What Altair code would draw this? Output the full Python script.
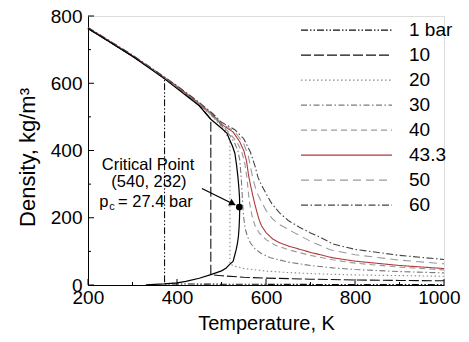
import altair as alt
import pandas as pd

# ---------------- data ----------------
labels = ["1 bar", "10", "20", "30", "40", "43.3", "50", "60"]
colors = ["#111111", "#111111", "#8c8c8c", "#7a7a7a", "#9a9a9a", "#b03a3a", "#9a9a9a", "#444444"]
dashes = [[7, 2, 1.5, 2, 1.5, 2], [10, 3], [1.5, 2.5], [6, 2.5, 1.5, 2.5], [6, 4], [1, 0], [8, 5], [7, 2.5, 1.5, 2.5]]

T_1 = [200, 250, 300, 350, 372, 372, 400, 450, 500, 600, 700, 800, 900, 1000]
R_1 = [763, 722, 680, 636, 613, 3.3, 3.05, 2.7, 2.42, 2.01, 1.72, 1.51, 1.34, 1.2]

T_10 = [200, 250, 300, 350, 400, 450, 476, 476, 500, 550, 600, 700, 800, 900, 1000]
R_10 = [763, 722, 680, 637, 589, 534, 493, 31, 27.5, 23, 20.5, 17.3, 15, 13.6, 12.5]

T_20 = [200, 250, 300, 350, 400, 450, 480, 500, 519, 519, 530, 550, 600, 650, 700, 800, 900, 1000]
R_20 = [764, 723, 681, 637, 590, 536, 500, 471, 430, 62, 56, 49, 41.5, 37, 34, 30, 28, 26]

T_30 = [200, 300, 400, 450, 480, 500, 520, 530, 537, 541, 544, 546, 548, 550, 553, 558, 565, 575, 590, 610, 650, 700, 750, 800, 900, 1000]
R_30 = [764, 681, 590, 537, 502, 474, 443, 421, 398, 372, 325, 282, 232, 200, 170, 145, 125, 108, 93, 81, 68, 58, 51, 46, 40, 36]

T_40 = [200, 300, 400, 450, 480, 500, 520, 535, 545, 552, 557, 560, 563, 566, 570, 576, 585, 600, 620, 650, 700, 750, 800, 900, 1000]
R_40 = [765, 682, 591, 539, 505, 477, 449, 424, 398, 365, 320, 280, 245, 222, 198, 174, 154, 135, 119, 105, 88, 75, 65, 53, 45]

T_43 = [200, 300, 400, 450, 480, 500, 526, 541, 550, 556, 561, 565, 570, 575, 580, 585, 590, 600, 615, 630, 650, 700, 750, 800, 900, 1000]
R_43 = [765, 682, 591, 540, 506, 478, 455, 426, 400, 370, 325, 298, 268, 240, 215, 192, 176, 156, 137, 126, 116, 97, 81, 71, 58, 49]

T_50 = [200, 300, 400, 450, 480, 500, 530, 550, 560, 570, 576, 582, 588, 593, 600, 615, 630, 660, 700, 744, 800, 900, 1000]
R_50 = [765, 683, 592, 541, 508, 481, 456, 420, 385, 320, 290, 268, 252, 240, 222, 196, 180, 158, 130, 105, 90, 74, 63]

T_60 = [200, 300, 400, 450, 480, 500, 530, 550, 565, 575, 582, 590, 600, 613, 630, 650, 675, 700, 725, 750, 800, 900, 1000]
R_60 = [766, 684, 593, 543, 510, 484, 462, 435, 395, 355, 320, 297, 272, 242, 215, 192, 172, 155, 140, 122, 106, 88, 76]

# saturation dome (liquid branch up to the critical point, then vapour branch)
T_sat = [200, 300, 372, 450, 476, 500, 512, 519, 525, 530, 534, 537, 539, 540.5, 541,
         540.5, 539.5, 538, 536, 533, 530, 526, 519, 510, 500, 476, 450, 420, 400, 372, 350, 330]
R_sat = [763, 680, 613, 533, 493, 466, 452, 430, 412, 392, 355, 320, 290, 260, 232,
         200, 170, 145, 125, 105, 90, 70, 62, 50, 42, 31, 20, 11, 6.5, 3.3, 1.7, 0.8]

crit_T = [540]
crit_R = [232]

# annotation text and positions (data units)
note_text = ["Critical Point", "(540, 232)"]
note_T = [335, 337]
note_R = [356, 305]
pc_p = ["p"]
pc_p_T = [246]
pc_c = ["c"]
pc_c_T = [247.5]
pc_c_R = [233]
pc_rest = ["= 27.4 bar"]
pc_rest_T = [267.5]
pc_R = [246]
arrow_T = [456, 531]
arrow_R = [287, 238]
head_T = [525]
head_R = [242]

x_major = [200, 400, 600, 800, 1000]
x_minor = [300, 500, 700, 900]
y_major = [0, 200, 400, 600, 800]
y_minor = [100, 300, 500, 700]

FONT = "Liberation Sans"

# ---------------- tables ----------------
series_T = [T_1, T_10, T_20, T_30, T_40, T_43, T_50, T_60]
series_R = [R_1, R_10, R_20, R_30, R_40, R_43, R_50, R_60]
rows = []
for lab, Ts, Rs in zip(labels, series_T, series_R):
    for i, (t, r) in enumerate(zip(Ts, Rs)):
        rows.append({"series": lab, "T": t, "rho": r, "i": i})
df = pd.DataFrame(rows)
sat = pd.DataFrame({"T": T_sat, "rho": R_sat, "i": list(range(len(T_sat)))})

W, H = 356, 269

xscale = alt.Scale(domain=[200, 1000], nice=False, zero=False)
yscale = alt.Scale(domain=[0, 800], nice=False)
xaxis = alt.Axis(values=x_major, format="d", title="Temperature, K", ticks=False, grid=False,
                 labelPadding=3, titlePadding=6, labelFontSize=19, titleFontSize=20,
                 labelFont=FONT, titleFont=FONT, labelColor="black", titleColor="black",
                 titleFontWeight="normal", domainColor="black",
                 labelFlush=True, labelFlushOffset=16)
yaxis = alt.Axis(values=y_major, format="d", title="Density, kg/m³", ticks=False, grid=False,
                 labelPadding=6, titlePadding=11, labelFontSize=19, titleFontSize=22,
                 titleY=141, labelFont=FONT, titleFont=FONT, labelColor="black", titleColor="black",
                 titleFontWeight="normal", domainColor="black", labelFlush=False)


def X():
    return alt.X("T:Q", scale=xscale, axis=xaxis)


def Y():
    return alt.Y("rho:Q", scale=yscale, axis=yaxis)


leg = alt.Legend(title=None, orient="none", legendX=212, legendY=1.8, symbolType="stroke",
                 symbolSize=8281, symbolStrokeWidth=1.2, labelFontSize=19, labelFont=FONT,
                 labelColor="black", clipHeight=24.7, rowPadding=0, padding=0, labelOffset=16,
                 labelLimit=0)

lines = alt.Chart(df).mark_line(strokeWidth=1.1).encode(
    x=X(), y=Y(),
    color=alt.Color("series:N", scale=alt.Scale(domain=labels, range=colors), legend=leg, sort=labels),
    strokeDash=alt.StrokeDash("series:N", scale=alt.Scale(domain=labels, range=dashes), legend=leg, sort=labels),
    order="i:Q",
)

dome = alt.Chart(sat).mark_line(color="black", strokeWidth=1.2).encode(x=X(), y=Y(), order="i:Q")

crit = alt.Chart(pd.DataFrame({"T": crit_T, "rho": crit_R})).mark_point(
    filled=True, color="black", size=45, opacity=1).encode(x=X(), y=Y())

arrow = alt.Chart(pd.DataFrame({"T": arrow_T, "rho": arrow_R, "i": [0, 1]})).mark_line(
    color="black", strokeWidth=1.3).encode(x=X(), y=Y(), order="i:Q")
head = alt.Chart(pd.DataFrame({"T": head_T, "rho": head_R})).mark_point(
    shape="triangle-right", filled=True, color="black", size=55, angle=27, opacity=1).encode(x=X(), y=Y())

notes = alt.Chart(pd.DataFrame({"T": note_T, "rho": note_R, "t": note_text})).mark_text(
    font=FONT, fontSize=16.5, color="black", align="center", baseline="middle").encode(x=X(), y=Y(), text="t:N")
p_txt = alt.Chart(pd.DataFrame({"T": pc_p_T, "rho": pc_R, "t": pc_p})).mark_text(
    font=FONT, fontSize=16.5, color="black", align="right", baseline="middle").encode(x=X(), y=Y(), text="t:N")
c_txt = alt.Chart(pd.DataFrame({"T": pc_c_T, "rho": pc_c_R, "t": pc_c})).mark_text(
    font=FONT, fontSize=11, color="black", align="left", baseline="middle").encode(x=X(), y=Y(), text="t:N")
rest_txt = alt.Chart(pd.DataFrame({"T": pc_rest_T, "rho": pc_R, "t": pc_rest})).mark_text(
    font=FONT, fontSize=16.5, color="black", align="left", baseline="middle").encode(x=X(), y=Y(), text="t:N")

xt_major = alt.Chart(pd.DataFrame({"T": x_major})).mark_rule(color="black", strokeWidth=1).encode(
    x=X(), y=alt.value(H), y2=alt.value(H - 6))
xt_minor = alt.Chart(pd.DataFrame({"T": x_minor})).mark_rule(color="black", strokeWidth=1).encode(
    x=X(), y=alt.value(H), y2=alt.value(H - 3))
yt_major = alt.Chart(pd.DataFrame({"rho": y_major})).mark_rule(color="black", strokeWidth=1).encode(
    y=Y(), x=alt.value(0), x2=alt.value(6))
yt_minor = alt.Chart(pd.DataFrame({"rho": y_minor})).mark_rule(color="black", strokeWidth=1).encode(
    y=Y(), x=alt.value(0), x2=alt.value(3))

chart = alt.layer(
    lines, dome, crit, arrow, head, notes, p_txt, c_txt, rest_txt,
    xt_major, xt_minor, yt_major, yt_minor
).properties(
    width=W, height=H,
    autosize=alt.AutoSizeParams(type="none"),
    padding={"left": 80, "top": 8, "right": 17, "bottom": 49},
).configure_view(stroke=None).configure(background="white")

chart.save("out.html", embed_options={"renderer": "svg", "actions": False})
